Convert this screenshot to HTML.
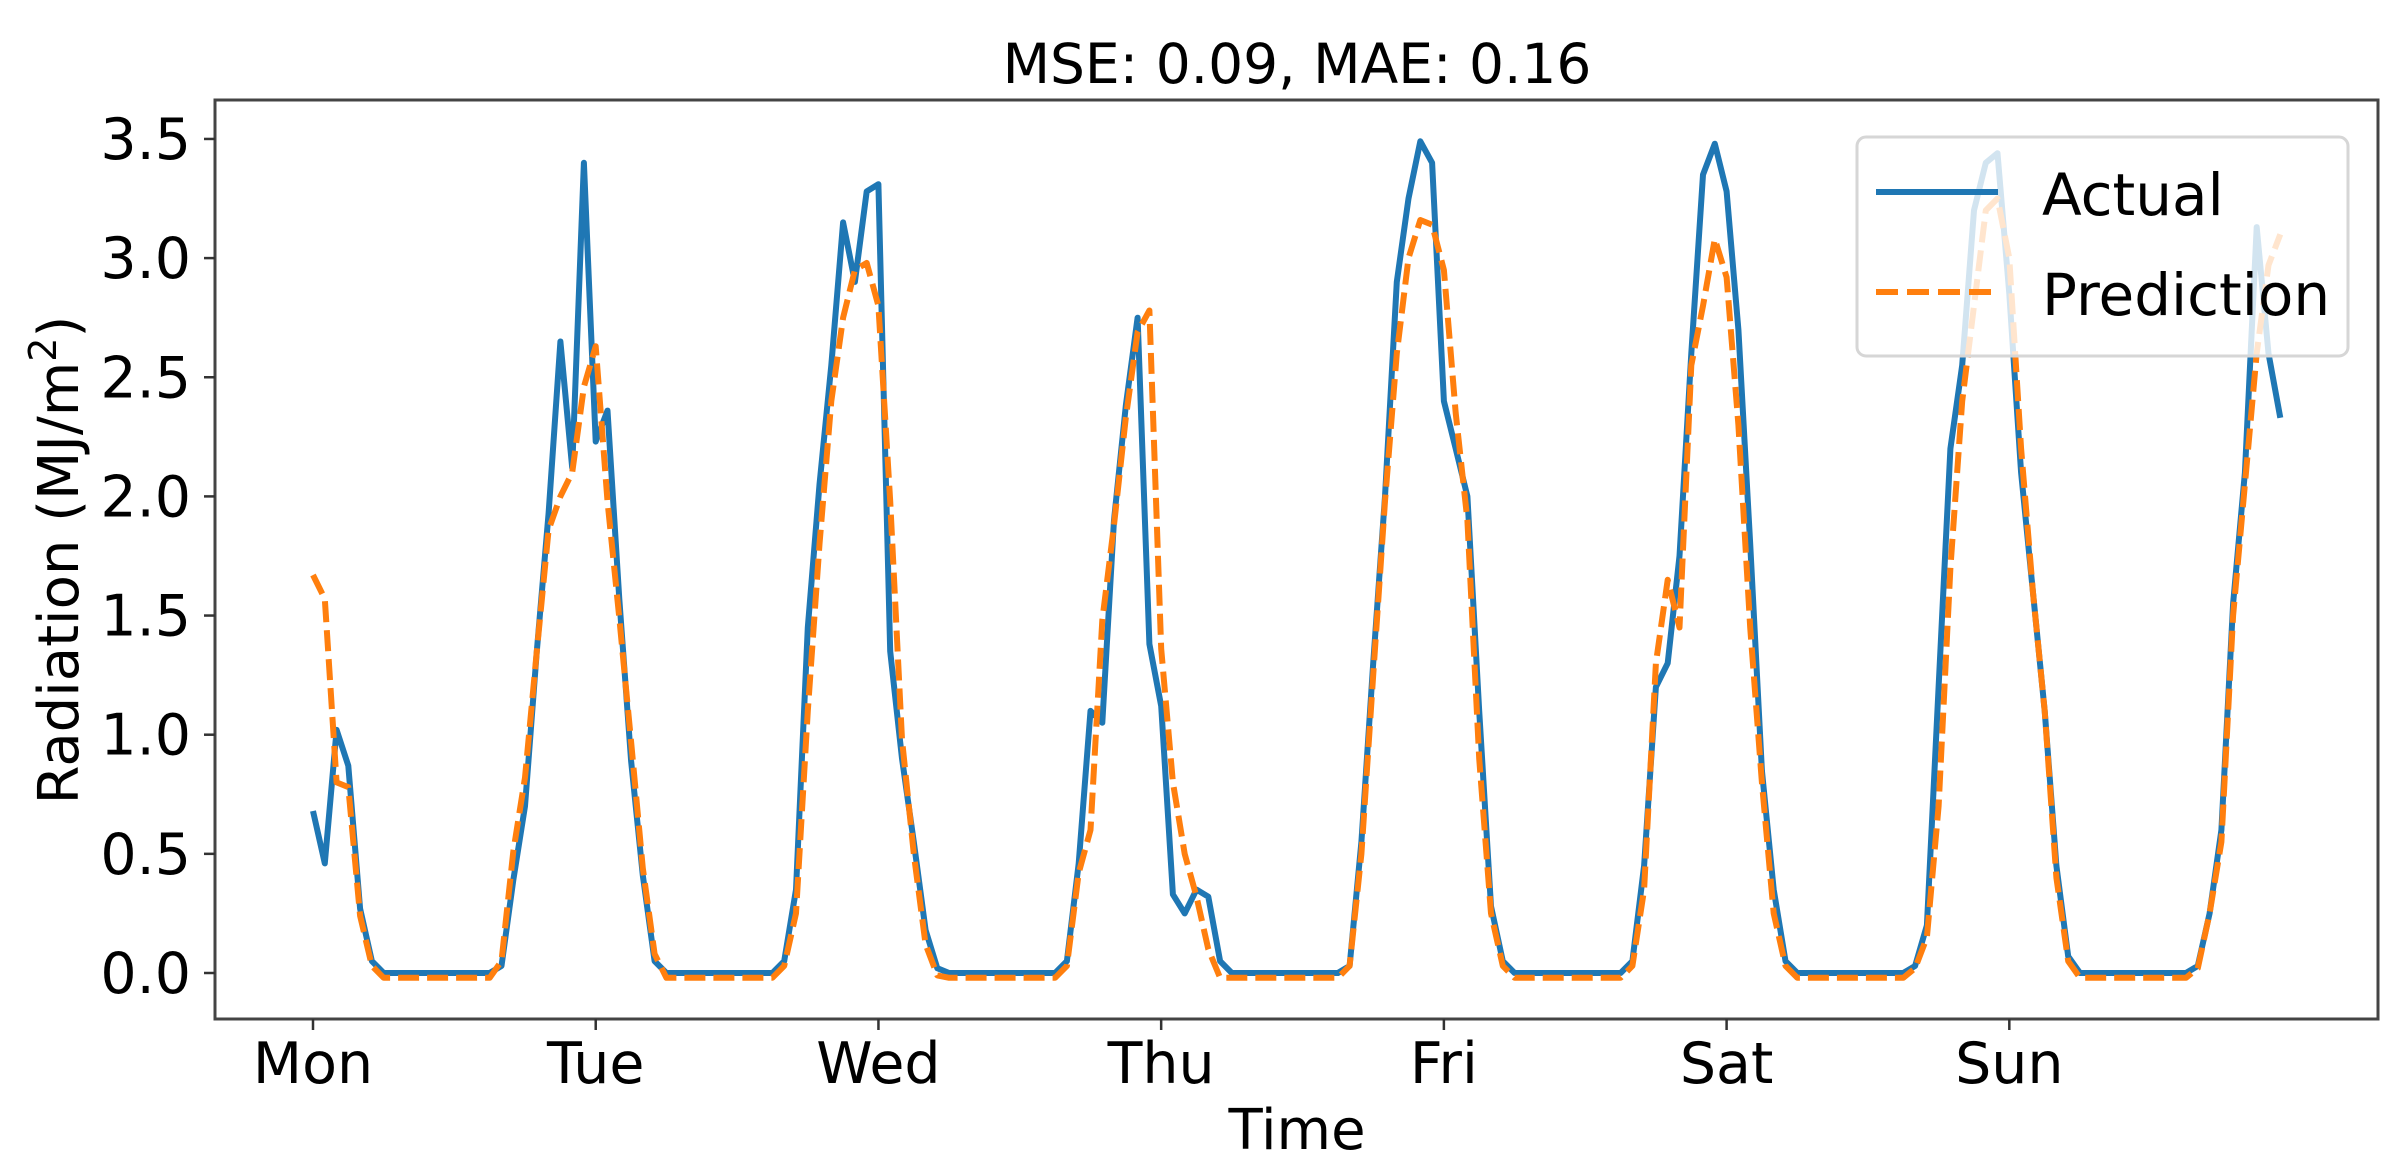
<!DOCTYPE html>
<html><head><meta charset="utf-8"><style>
html,body{margin:0;padding:0;background:#fff;}
svg{display:block;font-family:"DejaVu Sans","Liberation Sans",sans-serif;}
</style></head><body>
<svg id="chart" width="2406" height="1170" viewBox="0 0 2406 1170" xmlns="http://www.w3.org/2000/svg">
<rect x="0" y="0" width="2406" height="1170" fill="#fff"/>
<text x="1297" y="83" font-size="55" text-anchor="middle" fill="#000">MSE: 0.09, MAE: 0.16</text>
<g id="series"></g>
<rect x="215" y="100" width="2163" height="919" fill="none" stroke="#444" stroke-width="3"/>
<g id="yticks"></g>
<g id="xticks"></g>
<text x="1297" y="1149" font-size="56" text-anchor="middle" fill="#000">Time</text>
<text transform="translate(78,560) rotate(-90)" font-size="56" text-anchor="middle" fill="#000">Radiation (MJ/m<tspan baseline-shift="super" font-size="38">2</tspan>)</text>
<g>
<rect x="1857" y="137" width="491" height="219" rx="9" fill="#fff" fill-opacity="0.8" stroke="#d6d6d6" stroke-width="3"/>
<line x1="1876" y1="192" x2="1998" y2="192" stroke="#1f77b4" stroke-width="6"/>
<text x="2042" y="215" font-size="58" fill="#000">Actual</text>
<line x1="1876" y1="292" x2="1998" y2="292" stroke="#ff7f0e" stroke-width="6" stroke-dasharray="22,9"/>
<text x="2042" y="315" font-size="58" fill="#000">Prediction</text>
</g>
</svg>
<script>
const dayLabels = ["Mon","Tue","Wed","Thu","Fri","Sat","Sun"];
const yTickValues = [0.0,0.5,1.0,1.5,2.0,2.5,3.0,3.5];
const yTickLabels = ["0.0","0.5","1.0","1.5","2.0","2.5","3.0","3.5"];
const actual = [
0.68,0.46,1.02,0.87,0.27,0.05,0,0,0,0,0,0,0,0,0,0,0.03,0.39,0.70,1.35,1.93,2.65,2.12,3.40,
2.23,2.36,1.57,0.89,0.41,0.05,0,0,0,0,0,0,0,0,0,0,0.05,0.35,1.45,2.05,2.55,3.15,2.90,3.28,
3.31,1.35,0.90,0.55,0.18,0.02,0,0,0,0,0,0,0,0,0,0,0.05,0.46,1.10,1.05,1.90,2.38,2.75,1.38,
1.12,0.33,0.25,0.35,0.32,0.05,0,0,0,0,0,0,0,0,0,0,0.03,0.55,1.30,2.00,2.90,3.25,3.49,3.40,
2.40,2.20,2.00,1.10,0.28,0.05,0,0,0,0,0,0,0,0,0,0,0.05,0.45,1.20,1.30,1.75,2.60,3.35,3.48,
3.28,2.70,1.80,0.85,0.35,0.05,0,0,0,0,0,0,0,0,0,0,0.03,0.20,1.20,2.20,2.55,3.20,3.40,3.44,
2.85,2.10,1.60,1.10,0.45,0.07,0,0,0,0,0,0,0,0,0,0,0.03,0.25,0.60,1.55,2.10,3.13,2.60,2.33];
const prediction = [
1.67,1.57,0.80,0.78,0.24,0.03,-0.02,-0.02,-0.02,-0.02,-0.02,-0.02,-0.02,-0.02,-0.02,-0.02,0.05,0.51,0.82,1.35,1.86,2.00,2.10,2.46,
2.63,1.98,1.49,0.97,0.44,0.08,-0.02,-0.02,-0.02,-0.02,-0.02,-0.02,-0.02,-0.02,-0.02,-0.02,0.03,0.25,1.10,1.80,2.40,2.75,2.95,2.98,
2.80,1.98,0.98,0.50,0.12,-0.01,-0.02,-0.02,-0.02,-0.02,-0.02,-0.02,-0.02,-0.02,-0.02,-0.02,0.03,0.42,0.60,1.48,1.88,2.33,2.69,2.78,
1.36,0.80,0.50,0.32,0.10,-0.02,-0.02,-0.02,-0.02,-0.02,-0.02,-0.02,-0.02,-0.02,-0.02,-0.02,0.03,0.50,1.25,1.98,2.60,3.00,3.16,3.14,
2.95,2.35,1.90,0.90,0.25,0.03,-0.02,-0.02,-0.02,-0.02,-0.02,-0.02,-0.02,-0.02,-0.02,-0.02,0.03,0.35,1.30,1.65,1.45,2.55,2.80,3.08,
2.92,2.30,1.45,0.80,0.25,0.03,-0.02,-0.02,-0.02,-0.02,-0.02,-0.02,-0.02,-0.02,-0.02,-0.02,0.02,0.15,0.70,1.70,2.40,2.80,3.20,3.25,
3.00,2.20,1.60,1.10,0.40,0.05,-0.02,-0.02,-0.02,-0.02,-0.02,-0.02,-0.02,-0.02,-0.02,-0.02,0.02,0.25,0.55,1.50,2.05,2.60,2.97,3.10];
const hoursPerDay = 24;

const NS = "http://www.w3.org/2000/svg";
function xScale(i){ return 313 + i * 11.78; }
function yScale(v){ return 973 - v * 238.3; }

const series = document.getElementById("series");
function drawLine(vals, color, dash, name){
  const p = document.createElementNS(NS, "path");
  
  
  let d = "";
  vals.forEach((v,i)=>{ d += (i? "L":"M") + xScale(i).toFixed(1) + "," + yScale(v).toFixed(1); });
  p.setAttribute("d", d);
  p.setAttribute("fill","none");
  p.setAttribute("stroke",color);
  p.setAttribute("stroke-width","6");
  p.setAttribute("stroke-linejoin","round");
  if(dash) p.setAttribute("stroke-dasharray", dash);
  series.appendChild(p);
}
drawLine(actual, "#1f77b4", null, "actual-line");
drawLine(prediction, "#ff7f0e", "21,8", "prediction-line");

const yt = document.getElementById("yticks");
yTickValues.forEach((v,k)=>{
  const y = yScale(v);
  const l = document.createElementNS(NS,"line");
  
  
  l.setAttribute("x1",204); l.setAttribute("x2",215);
  l.setAttribute("y1",y); l.setAttribute("y2",y);
  l.setAttribute("stroke","#333"); l.setAttribute("stroke-width","2.5");
  yt.appendChild(l);
  const t = document.createElementNS(NS,"text");
  
  
  t.setAttribute("x",191); t.setAttribute("y",y+20);
  t.setAttribute("font-size","57"); t.setAttribute("text-anchor","end");
  t.textContent = yTickLabels[k];
  yt.appendChild(t);
});

const xt = document.getElementById("xticks");
dayLabels.forEach((lab,k)=>{
  const x = xScale(k*hoursPerDay);
  const l = document.createElementNS(NS,"line");
  
  
  l.setAttribute("x1",x); l.setAttribute("x2",x);
  l.setAttribute("y1",1019); l.setAttribute("y2",1030);
  l.setAttribute("stroke","#333"); l.setAttribute("stroke-width","2.5");
  xt.appendChild(l);
  const t = document.createElementNS(NS,"text");
  
  
  t.setAttribute("x",x); t.setAttribute("y",1083);
  t.setAttribute("font-size","57"); t.setAttribute("text-anchor","middle");
  t.textContent = lab;
  xt.appendChild(t);
});
</script>
</body></html>
